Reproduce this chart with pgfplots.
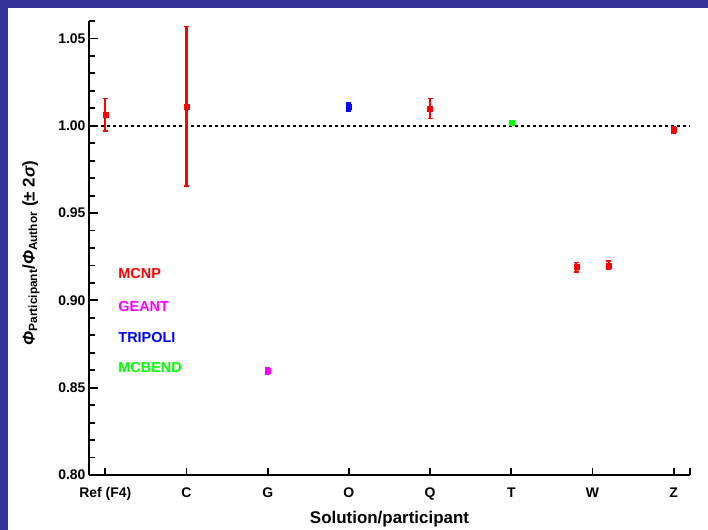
\documentclass[border=0pt]{standalone}
\usepackage{fontspec}
\setmainfont{Liberation Sans}
\usepackage{pgfplots}
\pgfplotsset{compat=1.18}
\definecolor{frameblue}{RGB}{51,51,153}
\definecolor{mcnp}{RGB}{255,0,0}
\definecolor{geant}{RGB}{255,0,255}
\definecolor{tripoli}{RGB}{0,0,255}
\definecolor{mcbend}{RGB}{0,255,0}
\pgfplotsset{
  errstyle/.style={
    only marks, mark=square*, mark size=2.5bp,
    every error bar/.append style={line width=2.2bp},
    error bars/.cd, y dir=both, y explicit,
    error mark options={rotate=90, mark size=2.4bp, line width=1.6bp}
  }
}
\begin{document}
\begin{tikzpicture}
\path[use as bounding box] (0,0) rectangle (708bp,530bp);
\fill[frameblue] (0,0) rectangle (708bp,530bp);
\fill[white] (8bp,0) rectangle (708bp,522bp);
\begin{axis}[
  at={(89bp,55bp)}, anchor=south west,
  scale only axis, width=601bp, height=454bp,
  xmin=-0.2, xmax=7.2, ymin=0.80, ymax=1.06,
  axis x line=bottom, axis y line=left,
  axis line style={-, line width=2.2bp},
  tick align=inside,
  xtick={0,1,2,3,4,5,6,7},
  xticklabels={Ref (F4),C,G,O,Q,T,W,Z},
  extra x ticks={7.2}, extra x tick labels={},
  ytick={0.8,0.85,0.9,0.95,1,1.05},
  minor ytick={0.81,0.82,0.83,0.84,0.86,0.87,0.88,0.89,0.91,0.92,0.93,0.94,0.96,0.97,0.98,0.99,1.01,1.02,1.03,1.04,1.06},
  major tick length=9bp, minor tick length=6bp,
  xtick style={/pgfplots/major tick length=7bp},
  tick style={black, line width=1.8bp},
  ticklabel style={font=\fontsize{14}{16}\selectfont\bfseries},
  xticklabel style={yshift=-9bp},
  /pgf/number format/assume math mode=true,
  yticklabel style={/pgf/number format/.cd, fixed, fixed zerofill, precision=2},
  xlabel={Solution/participant},
  ylabel={{\itshape Φ}\textsubscript{Participant}/{\itshape Φ}\textsubscript{Author} (± 2{\itshape σ})},
  label style={font=\fontsize{17}{19}\selectfont\bfseries},
  xlabel style={at={(axis description cs:0.5,-0.097)}, anchor=center},
  ylabel style={at={(axis description cs:-0.0965,0.489)}, anchor=center},
  clip=false,
]
\addplot[black, line width=1.6bp, dash pattern=on 3bp off 3bp] coordinates {(-0.2,1) (7.2,1)};
% MCNP
\addplot[mcnp, errstyle] coordinates {
  (0,1.0063) +- (0,0.0093)
  (1,1.0111) +- (0,0.0457)
  (4,1.0099) +- (0,0.0058)
  (5.8,0.9191) +- (0,0.0027)
  (6.2,0.9201) +- (0,0.0025)
  (7,0.9978) +- (0,0.0018)
};
% GEANT
\addplot[geant, errstyle] coordinates {(2,0.8597) +- (0,0.0017)};
% TRIPOLI
\addplot[tripoli, errstyle] coordinates {(3,1.0107) +- (0,0.0023)};
% MCBEND
\addplot[mcbend, errstyle] coordinates {(5,1.0015) +- (0,0.0005)};
\begin{scope}[every node/.style={anchor=west, inner sep=0pt, font=\fontsize{14.5}{16}\selectfont\bfseries}]
\node[text=mcnp] at (axis cs:0.16,0.9153) {MCNP};
\node[text=geant] at (axis cs:0.16,0.8966) {GEANT};
\node[text=tripoli] at (axis cs:0.16,0.8789) {TRIPOLI};
\node[text=mcbend] at (axis cs:0.16,0.8613) {MCBEND};
\end{scope}
\end{axis}
\end{tikzpicture}
\end{document}
